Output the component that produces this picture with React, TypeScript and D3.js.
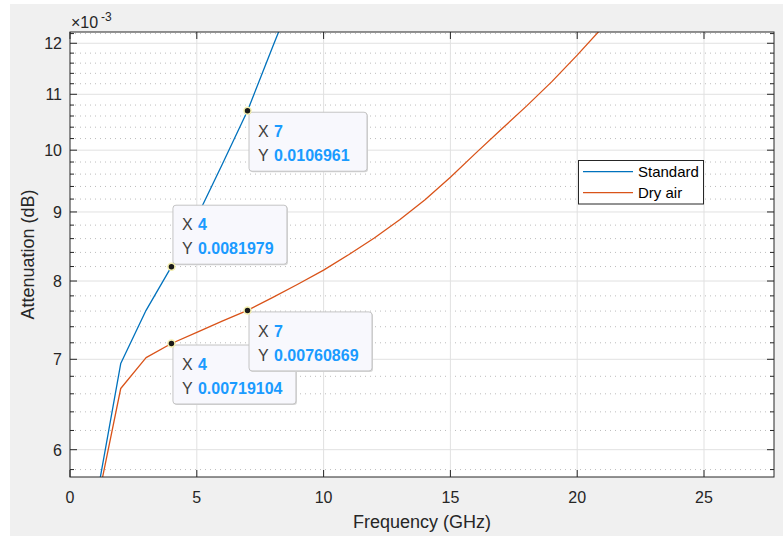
import React from "react";
import * as d3 from "d3";

const freqStandard = [1, 2, 3, 4, 5, 6, 7, 8, 9];
const attStandard = [5.46, 6.95, 7.61, 8.1979, 8.92, 9.76, 10.6961, 11.94, 13.3];
const freqDry = [1, 2, 3, 4, 5, 6, 7, 8, 9, 10, 11, 12, 13, 14, 15, 16, 17, 18, 19, 20, 21];
const attDry = [5.39, 6.66, 7.02, 7.19104, 7.33, 7.47, 7.60869, 7.78, 7.96, 8.15, 8.37, 8.61, 8.88, 9.19, 9.55, 9.95, 10.36, 10.78, 11.24, 11.76, 12.33];

const xTicks = [0, 5, 10, 15, 20, 25];
const yTicks = [6, 7, 8, 9, 10, 11, 12];
const yMinor = [5.8, 6.2, 6.4, 6.6, 6.8, 7.2, 7.4, 7.6, 7.8, 8.2, 8.4, 8.6, 8.8, 9.2, 9.4, 9.6, 9.8, 10.2, 10.4, 10.6, 10.8, 11.2, 11.4, 11.6, 11.8, 12.2];
const seriesNames = ["Standard", "Dry air"];
const seriesColors = ["#0072BD", "#D95319"];

// data tips: series index, x, displayed Y, placement
const tips = [
  { s: 0, x: 7, label: "0.0106961", place: "below", w: 118 },
  { s: 0, x: 4, label: "0.0081979", place: "above", w: 114 },
  { s: 1, x: 4, label: "0.00719104", place: "below", w: 123 },
  { s: 1, x: 7, label: "0.00760869", place: "below", w: 123 },
];

const FONT = "'Liberation Sans', Arial, Helvetica, sans-serif";

export default function App() {
  const L = 70, R = 774, T = 32, B = 477;
  const x = d3.scaleLinear().domain([0, 27.76]).range([L, R]);
  const y = d3.scaleLog().domain([5.727, 12.233]).range([B, T]);
  const line = d3.line<[number, number]>().x((d) => x(d[0])).y((d) => y(d[1]));
  const series = [
    freqStandard.map((f, i) => [f, attStandard[i]] as [number, number]),
    freqDry.map((f, i) => [f, attDry[i]] as [number, number]),
  ];
  const axisColor = "#262626";
  return (
    <svg width={783} height={536} style={{ position: "absolute", left: 0, top: 0 }} fontFamily={FONT}>
      <defs>
        <clipPath id="plotclip">
          <rect x={L} y={T} width={R - L} height={B - T} />
        </clipPath>
      </defs>
      <rect x={0} y={0} width={783} height={536} fill="#ffffff" />
      <rect x={10} y={4} width={773} height={532} fill="#f0f0f0" />
      <rect x={L} y={T} width={R - L} height={B - T} fill="#ffffff" />
      {/* minor grid */}
      {yMinor.map((v) => (
        <line key={"mg" + v} x1={L} x2={R} y1={y(v)} y2={y(v)} stroke="#bdbdbd" strokeWidth={1} strokeDasharray="1 4" />
      ))}
      {/* major grid */}
      {yTicks.map((v) => (
        <line key={"g" + v} x1={L} x2={R} y1={y(v)} y2={y(v)} stroke="#e1e1e1" strokeWidth={1} />
      ))}
      {xTicks.filter((v) => v > 0).map((v) => (
        <line key={"gx" + v} x1={x(v)} x2={x(v)} y1={T} y2={B} stroke="#e1e1e1" strokeWidth={1} />
      ))}
      {/* lines */}
      <g clipPath="url(#plotclip)">
        {series.map((s, i) => (
          <path key={i} d={line(s) || ""} fill="none" stroke={seriesColors[i]} strokeWidth={1.3} strokeLinejoin="round" />
        ))}
      </g>
      {/* axes box */}
      <rect x={L} y={T} width={R - L} height={B - T} fill="none" stroke={axisColor} strokeWidth={1} />
      {/* ticks */}
      {xTicks.map((v) => (
        <g key={"xt" + v}>
          <line x1={x(v)} x2={x(v)} y1={B} y2={B - 7} stroke={axisColor} />
          <line x1={x(v)} x2={x(v)} y1={T} y2={T + 7} stroke={axisColor} />
          <text x={x(v)} y={503} textAnchor="middle" fontSize={16} fill={axisColor}>{v}</text>
        </g>
      ))}
      {yTicks.map((v) => (
        <g key={"yt" + v}>
          <line x1={L} x2={L + 7} y1={y(v)} y2={y(v)} stroke={axisColor} />
          <line x1={R} x2={R - 7} y1={y(v)} y2={y(v)} stroke={axisColor} />
          <text x={62} y={y(v) + 6} textAnchor="end" fontSize={16} fill={axisColor}>{v}</text>
        </g>
      ))}
      {yMinor.map((v) => (
        <g key={"ym" + v}>
          <line x1={L} x2={L + 4} y1={y(v)} y2={y(v)} stroke={axisColor} />
          <line x1={R} x2={R - 4} y1={y(v)} y2={y(v)} stroke={axisColor} />
        </g>
      ))}
      {/* exponent */}
      <text x={71} y={28} fontSize={16} fill={axisColor}>
        ×10
      </text>
      <text x={101} y={21} fontSize={12} fill={axisColor}>-3</text>
      {/* labels */}
      <text x={(L + R) / 2} y={528} textAnchor="middle" fontSize={18} fill={axisColor}>Frequency (GHz)</text>
      <text transform={`translate(34,${(T + B) / 2}) rotate(-90)`} textAnchor="middle" fontSize={18} fill={axisColor}>Attenuation (dB)</text>
      {/* legend */}
      <rect x={578.5} y={160.5} width={125} height={43.5} fill="#ffffff" stroke={axisColor} strokeWidth={1} />
      {seriesNames.map((n, i) => (
        <g key={n}>
          <line x1={583} x2={633} y1={171.7 + i * 21} y2={171.7 + i * 21} stroke={seriesColors[i]} strokeWidth={1.3} />
          <text x={638} y={171.7 + i * 21 + 5} fontSize={15} fill="#000">{n}</text>
        </g>
      ))}
      {/* data tips */}
      {tips.map((t, k) => {
        const s = series[t.s];
        const pt = s.find((d) => d[0] === t.x)!;
        const mx = x(pt[0]);
        const my = y(pt[1]);
        const h = 59;
        const bx = mx + 1.5;
        const by = t.place === "below" ? my + 1.5 : my - 2.5 - h;
        return (
          <g key={"tip" + k}>
            <rect x={bx + 1} y={by + 1} width={t.w} height={h} rx={3} fill="#d6d6d6" />
            <rect x={bx} y={by} width={t.w} height={h} rx={3} fill="#f8f8fd" stroke="#c4c4c4" strokeWidth={1} />
            <text x={bx + 9} y={by + 25} fontSize={16} fill="#404040">X</text>
            <text x={bx + 25} y={by + 25} fontSize={16} fontWeight="bold" fill="#1a9bff">{t.x}</text>
            <text x={bx + 9} y={by + 49} fontSize={16} fill="#404040">Y</text>
            <text x={bx + 25} y={by + 49} fontSize={16} fontWeight="bold" fill="#1a9bff">{t.label}</text>
            <circle cx={mx} cy={my} r={3.5} fill="#1a1a1a" stroke="#f5f0b0" strokeWidth={1.5} />
          </g>
        );
      })}
    </svg>
  );
}
